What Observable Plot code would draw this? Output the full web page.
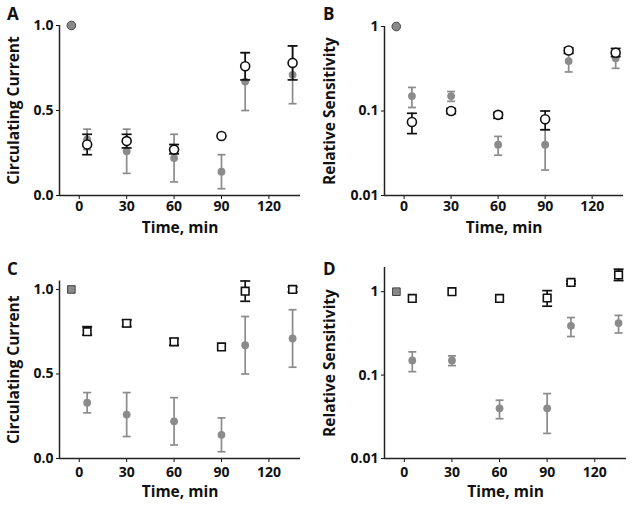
<!DOCTYPE html>
<html>
<head>
<meta charset="utf-8">
<script src="https://cdn.jsdelivr.net/npm/d3@7"></script>
<script src="https://cdn.jsdelivr.net/npm/@observablehq/plot@0.6"></script>
<style>
  html, body { margin: 0; padding: 0; background: #fff; }
  #chart { position: relative; width: 633px; height: 507px; font-family: "Open Sans", sans-serif; }
  .panel { position: absolute; }
  .letter { position: absolute; font-family: "Open Sans", sans-serif; font-weight: 700; font-size: 17px; line-height: 1; color: #111; }
  .panel svg [aria-label$="axis label"] { font-size: 15.5px; }
</style>
</head>
<body>
<div id="chart"></div>
<script>
// ---------- data ----------
const baseTime = [-5];
const baseValue = [1.0];
const times = [5, 30, 60, 90, 105, 135];
const xTicks = [0, 30, 60, 90, 120];
const linTicks = [0, 0.5, 1.0];
const logTicks = [0.01, 0.1, 1];

// Circulating current, grey filled circles (panels A and C)
const ccGrey   = [0.33, 0.26, 0.22, 0.14, 0.67, 0.71];
const ccGreyLo = [0.27, 0.13, 0.08, 0.04, 0.50, 0.54];
const ccGreyHi = [0.39, 0.39, 0.36, 0.24, 0.84, 0.88];

// Circulating current, open circles (panel A)
const ccOpen   = [0.30, 0.32, 0.27, 0.35, 0.76, 0.78];
const ccOpenLo = [0.24, 0.28, 0.245, null, 0.68, 0.68];
const ccOpenHi = [0.36, 0.36, 0.30, null, 0.84, 0.88];

// Circulating current, open squares (panel C)
const ccSq   = [0.75, 0.80, 0.69, 0.66, 0.99, 1.00];
const ccSqLo = [0.73, 0.78, 0.67, null, 0.93, 0.985];
const ccSqHi = [0.78, 0.82, 0.71, null, 1.05, 1.015];

// Relative sensitivity, grey filled circles (panels B and D)
const rsGrey   = [0.15, 0.15, 0.04, 0.04, 0.39, 0.42];
const rsGreyLo = [0.11, 0.13, 0.03, 0.02, 0.29, 0.32];
const rsGreyHi = [0.19, 0.17, 0.05, 0.06, 0.49, 0.52];

// Relative sensitivity, open circles (panel B)
const rsOpen   = [0.074, 0.10, 0.09, 0.08, 0.52, 0.49];
const rsOpenLo = [0.054, 0.093, 0.082, 0.06, 0.48, 0.44];
const rsOpenHi = [0.094, 0.107, 0.096, 0.10, 0.56, 0.55];

// Relative sensitivity, open squares (panel D)
const rsSq   = [0.83, 1.0, 0.83, 0.84, 1.29, 1.59];
const rsSqLo = [null, null, null, 0.67, 1.24, 1.36];
const rsSqHi = [null, null, null, 1.03, 1.34, 1.86];

// ---------- helpers ----------
const rows = (v, lo, hi) => times.map((t, i) => ({t, v: v[i], lo: lo[i], hi: hi[i]}));
const base = baseTime.map((t, i) => ({t, v: baseValue[i]}));

const GREY = "#8b8b8b";
const DARK = "#111";

const cap = { draw(ctx, size) { const w = Math.sqrt(size / Math.PI); ctx.moveTo(-w, 0); ctx.lineTo(w, 0); } };

function errMarks(data, color, capR, sw) {
  return [
    Plot.ruleX(data, {x: "t", y1: "lo", y2: "hi", stroke: color, strokeWidth: sw}),
    Plot.dot(data, {x: "t", y: "lo", symbol: cap, r: capR, stroke: color, strokeWidth: sw}),
    Plot.dot(data, {x: "t", y: "hi", symbol: cap, r: capR, stroke: color, strokeWidth: sw})
  ];
}

const xDomain = [-12.5, 140];

function panel(cfg) {
  const isLog = cfg.yType === "log";
  const grey = cfg.grey;
  const other = cfg.other;
  const marks = [
    Plot.axisX({ticks: xTicks, tickSize: 4, tickPadding: cfg.xPad, tickFormat: d3.format("d"),
      label: "Time, min", labelAnchor: "center", labelArrow: "none", labelOffset: cfg.xLabelOffset}),
    Plot.axisY({ticks: isLog ? logTicks : linTicks, tickSize: 3, tickPadding: 3,
      tickFormat: isLog ? (d => String(d)) : d3.format(".1f"),
      label: cfg.yLabel, labelAnchor: "center", labelArrow: "none", labelOffset: cfg.yLabelOffset}),
    Plot.ruleY([cfg.yDomain[0]], {stroke: "#222", strokeWidth: 1.5}),
    Plot.ruleX([xDomain[0]], {stroke: "#222", strokeWidth: 1.5}),
    ...errMarks(grey, GREY, 4, 1.7),
    Plot.dot(grey, {x: "t", y: "v", r: 3.9, fill: GREY}),
    ...errMarks(other, DARK, 5, 1.7),
    Plot.dot(other, {x: "t", y: "v", symbol: cfg.symbol, r: cfg.symbol === "square" ? 4.3 : 4.5,
      fill: "white", stroke: DARK, strokeWidth: 1.6}),
    Plot.dot(base, {x: "t", y: "v", symbol: cfg.symbol, r: 4.3,
      fill: "#8a8a8a", stroke: "#444", strokeWidth: 1})
  ];
  return Plot.plot({
    width: cfg.width, height: cfg.height,
    marginLeft: cfg.ml, marginRight: cfg.mr, marginTop: cfg.mt, marginBottom: cfg.mb,
    style: {fontFamily: "'Open Sans', sans-serif", fontWeight: 700, fontSize: "14px", color: "#111", background: "transparent", overflow: "visible"},
    x: {domain: xDomain},
    y: {type: isLog ? "log" : "linear", domain: cfg.yDomain},
    marks
  });
}

const panels = [
  {id: "A", left: 0, top: 0, width: 316, height: 250, ml: 59, mr: 16, mt: 25, mb: 55,
   yType: "linear", yDomain: [0, 1], yLabel: "Circulating Current", symbol: "circle",
   grey: rows(ccGrey, ccGreyLo, ccGreyHi), other: rows(ccOpen, ccOpenLo, ccOpenHi),
   xPad: 2, xLabelOffset: 37, yLabelOffset: 52},
  {id: "B", left: 316, top: 0, width: 317, height: 250, ml: 68, mr: 10, mt: 26, mb: 55,
   yType: "log", yDomain: [0.01, 1], yLabel: "Relative Sensitivity", symbol: "circle",
   grey: rows(rsGrey, rsGreyLo, rsGreyHi), other: rows(rsOpen, rsOpenLo, rsOpenHi),
   xPad: 2, xLabelOffset: 37, yLabelOffset: 61},
  {id: "C", left: 0, top: 255, width: 316, height: 252, ml: 59, mr: 16, mt: 25.5, mb: 49,
   yType: "linear", yDomain: [0, 1.05], yLabel: "Circulating Current", symbol: "square",
   grey: rows(ccGrey, ccGreyLo, ccGreyHi), other: rows(ccSq, ccSqLo, ccSqHi),
   xPad: 5, xLabelOffset: 38, yLabelOffset: 52},
  {id: "D", left: 316, top: 255, width: 317, height: 252, ml: 68, mr: 7, mt: 12, mb: 49,
   yType: "log", yDomain: [0.01, 1.95], yLabel: "Relative Sensitivity", symbol: "square",
   grey: rows(rsGrey, rsGreyLo, rsGreyHi), other: rows(rsSq, rsSqLo, rsSqHi),
   xPad: 5, xLabelOffset: 38, yLabelOffset: 61}
];

const root = document.getElementById("chart");
for (const p of panels) {
  const div = document.createElement("div");
  div.className = "panel";
  div.style.left = p.left + "px";
  div.style.top = p.top + "px";
  div.appendChild(panel(p));
  root.appendChild(div);
  const L = document.createElement("div");
  L.className = "letter";
  L.textContent = p.id;
  L.style.left = (p.left + 7) + "px";
  L.style.top = (p.top + 5) + "px";
  root.appendChild(L);
}
</script>
</body>
</html>
